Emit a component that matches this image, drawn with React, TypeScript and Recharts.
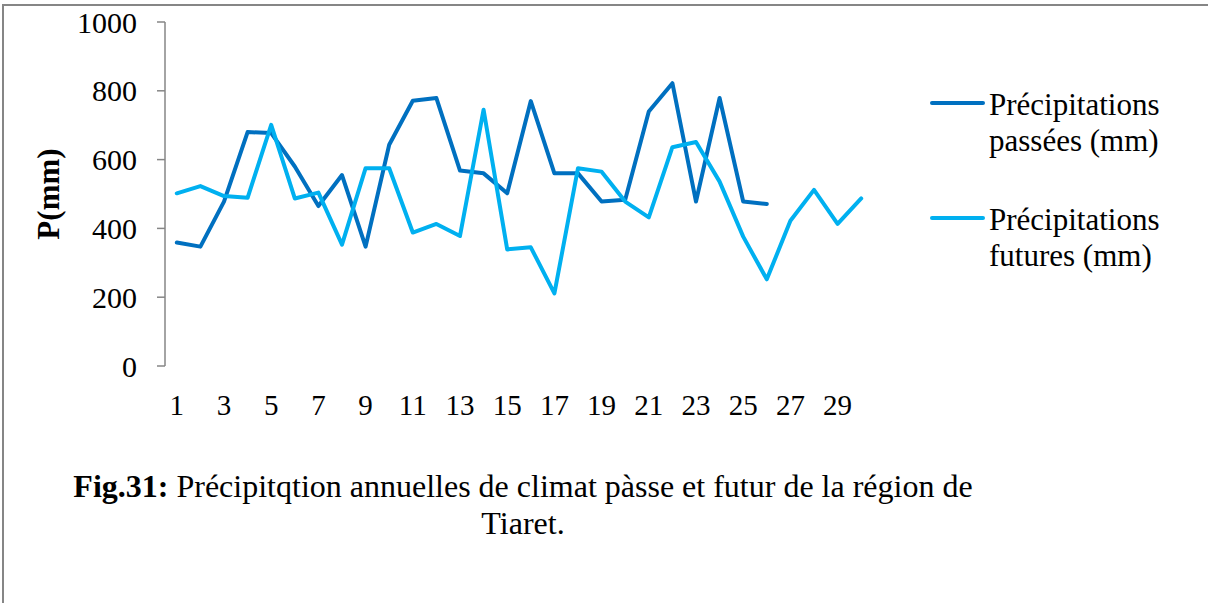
import { LineChart, Line, XAxis, YAxis, Legend } from 'recharts';

const years = Array.from({ length: 30 }, (_, i) => i + 1);
const pastRain = [359, 347, 478, 680, 677, 580, 465, 555, 347, 643, 771, 779, 568, 560, 502, 770, 560, 560, 478, 483, 740, 822, 478, 779, 478, 471];
const futureRain = [502, 523, 494, 489, 701, 487, 504, 353, 575, 575, 388, 413, 378, 745, 339, 345, 211, 575, 565, 478, 432, 636, 651, 536, 376, 252, 422, 512, 413, 487];
const yTicks = [0, 200, 400, 600, 800, 1000];
const labelTicks = years.filter((y) => y % 2 === 1);
const markTicks = [0, ...years].map((y) => y + 0.5);
const seriesOrder = ['past', 'future'];

const data = years.map((year, i) => ({ year, past: pastRain[i], future: futureRain[i] }));

const FONT = '"Liberation Serif", "Times New Roman", serif';
const AXIS = '#868686';

function LegendBox({ payload }: any) {
  const items = [...(payload || [])].sort((a: any, b: any) => seriesOrder.indexOf(a.dataKey) - seriesOrder.indexOf(b.dataKey));
  return (
    <div style={{ fontFamily: FONT, fontSize: 31, lineHeight: '36px', color: '#000' }}>
      {items.map((p: any, i: number) => (
        <div key={i} style={{ display: 'flex', alignItems: 'flex-start', marginBottom: i === 0 ? 43 : 0 }}>
          <span style={{ width: 55, height: 4, borderRadius: 2, background: p.color, marginTop: 14, marginRight: 4, flex: 'none' }} />
          <span style={{ width: 200 }}>{p.value}</span>
        </div>
      ))}
    </div>
  );
}

function YLabel({ viewBox }: any) {
  const cy = viewBox.y + viewBox.height / 2;
  return (
    <text x={48} y={cy} transform={`rotate(-90 48 ${cy})`} textAnchor="middle" dominantBaseline="central"
      style={{ fontFamily: FONT, fontSize: 31, fontWeight: 'bold', fill: '#000' }}>
      P(mm)
    </text>
  );
}

export default function App() {
  return (
    <div style={{ position: 'absolute', left: 0, top: 0, width: 1208, height: 603, background: '#fff', overflow: 'hidden' }}>
      <div style={{ position: 'absolute', left: 2, top: 4, width: 1210, height: 610, borderTop: `2px solid ${AXIS}`, borderLeft: `2px solid ${AXIS}` }} />
      <div style={{ position: 'absolute', left: 0, top: 0 }}>
        <LineChart width={1208} height={420} data={data} margin={{ top: 22, right: 335, left: 0, bottom: 4 }}>
          <XAxis xAxisId="marks" type="number" dataKey="year" domain={[0.5, 30.5]} ticks={markTicks} height={0}
            tickFormatter={() => ''} tickSize={8} stroke={AXIS} strokeWidth={1.5} allowDataOverflow />
          <XAxis xAxisId="main" type="number" dataKey="year" domain={[0.5, 30.5]} ticks={labelTicks} height={50}
            axisLine={false} tickLine={false} tickSize={8} tickMargin={20} interval={0}
            tick={{ fill: '#000', fontSize: 29, fontFamily: FONT }} allowDataOverflow />
          <YAxis domain={[0, 1000]} ticks={yTicks} width={165} tickSize={8} tickMargin={20} stroke={AXIS} strokeWidth={1.5}
            tick={{ fill: '#000', fontSize: 30, fontFamily: FONT }} label={<YLabel />} />
          <Legend layout="horizontal" align="center" verticalAlign="middle" content={<LegendBox />}
            wrapperStyle={{ left: 930, top: 87, width: 270 }} />
          <Line xAxisId="main" dataKey="past" name="Précipitations passées (mm)" stroke="#0070C0" strokeWidth={4}
            strokeLinejoin="round" strokeLinecap="round" dot={false} activeDot={false} isAnimationActive={false} />
          <Line xAxisId="main" dataKey="future" name="Précipitations futures (mm)" stroke="#00B0F0" strokeWidth={4}
            strokeLinejoin="round" strokeLinecap="round" dot={false} activeDot={false} isAnimationActive={false} />
        </LineChart>
      </div>
      <div style={{ position: 'absolute', left: 58, top: 468, width: 930, textAlign: 'center', fontFamily: FONT, fontSize: 32, lineHeight: '37px', color: '#000' }}>
        <b>Fig.31:</b> Précipitqtion annuelles de climat pàsse et futur de la région de Tiaret.
      </div>
    </div>
  );
}
